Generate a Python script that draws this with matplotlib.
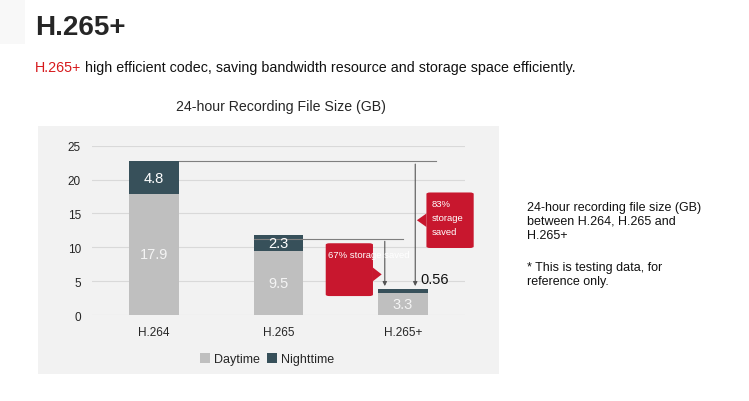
import matplotlib
matplotlib.use("Agg")
import matplotlib.pyplot as plt
from matplotlib.patches import Rectangle, FancyBboxPatch, Polygon

plt.rcParams['font.family'] = ['Liberation Sans', 'DejaVu Sans']

# data
codecs = ['H.264', 'H.265', 'H.265+']
daytime = [17.9, 9.5, 3.3]
nighttime = [4.8, 2.3, 0.56]
day_lbl = ['17.9', '9.5', '3.3']
night_lbl = ['4.8', '2.3', '0.56']
yticks = [0, 5, 10, 15, 20, 25]

c_day = '#bfbfbf'
c_night = '#37505a'
c_red = '#c8172e'
c_bg = '#f2f2f2'

fig = plt.figure(figsize=(7.49, 4.02), dpi=100)

# grey panel behind the chart
fig.patches.append(Rectangle((0.0507, 0.067), 0.6155, 0.617, transform=fig.transFigure,
                             facecolor=c_bg, edgecolor='none', zorder=-5))
# faint box behind header
fig.patches.append(Rectangle((0.0, 0.888), 0.034, 0.112, transform=fig.transFigure,
                             facecolor='#f8f8f8', edgecolor='none', zorder=-5))

fig.text(0.047, 0.93, 'H.265+', fontsize=20, fontweight='bold', color='#262626', va='center')
t = fig.text(0.047, 0.832, 'H.265+', fontsize=10.3, color='#d7191c', va='center')
fig.canvas.draw()
bb = t.get_window_extent()
fig.text(bb.x1 / fig.bbox.width + 0.004, 0.832,
         'high efficient codec, saving bandwidth resource and storage space efficiently.',
         fontsize=10.3, color='#111111', va='center')

fig.text(0.375, 0.733, '24-hour Recording File Size (GB)', fontsize=10.2, color='#262626',
         ha='center', va='center')

fig.text(0.703, 0.448, '24-hour recording file size (GB)\nbetween H.264, H.265 and\nH.265+',
         fontsize=9, color='#111111', va='center', linespacing=1.2)
fig.text(0.703, 0.315, '* This is testing data, for\nreference only.',
         fontsize=9, color='#111111', va='center', linespacing=1.2)

ax = fig.add_axes([0.1228, 0.2139, 0.498, 0.421])
ax.patch.set_alpha(0)
x = list(range(len(codecs)))
ax.bar(x, daytime, width=0.4, color=c_day, label='Daytime', zorder=3)
ax.bar(x, nighttime, width=0.4, bottom=daytime, color=c_night, label='Nighttime', zorder=3)

for i in x:
    ax.text(i, daytime[i] / 2, day_lbl[i], ha='center', va='center',
            fontsize=10.5, color='#f4f4f4', zorder=5)
    if nighttime[i] > 1:
        ax.text(i, daytime[i] + nighttime[i] / 2, night_lbl[i], ha='center', va='center',
                fontsize=10.5, color='white', zorder=5)
    else:
        ax.text(i + 0.14, daytime[i] + nighttime[i] + 1.4, night_lbl[i], ha='left',
                va='center', fontsize=10.5, color='#111111', zorder=5)

ax.set_xlim(-0.5, 2.5)
ax.set_ylim(0, 25)
ax.set_yticks(yticks)
ax.set_xticks(x)
ax.set_xticklabels(codecs)
ax.tick_params(length=0, labelsize=8.5, colors='#262626', pad=8)
ax.tick_params(axis='y', pad=8)
for s in ax.spines.values():
    s.set_visible(False)
ax.yaxis.grid(True, color='#d9d9d9', linewidth=0.8, zorder=0)
ax.set_axisbelow(True)

tot = [d + n for d, n in zip(daytime, nighttime)]
lc = '#7f7f7f'
# 83% saving line
ax.plot([0.2, 2.27], [tot[0], tot[0]], color=lc, lw=0.8, zorder=4, clip_on=False)
ax.annotate('', xy=(2.1, tot[2]), xytext=(2.1, tot[0]),
            arrowprops=dict(arrowstyle='-|>', color='#555555', lw=0.8, mutation_scale=6), zorder=4)
# 67% saving line
ax.plot([0.8, 2.0], [11.3, 11.3], color=lc, lw=0.8, zorder=4)
ax.annotate('', xy=(1.855, tot[2]), xytext=(1.855, 11.3),
            arrowprops=dict(arrowstyle='-|>', color='#555555', lw=0.8, mutation_scale=6), zorder=4)

# callouts
b1 = FancyBboxPatch((2.19, 9.9), 0.38, 8.2, boxstyle='round,pad=0,rounding_size=0.03',
                    facecolor=c_red, edgecolor='none', zorder=6, clip_on=False,
                    mutation_aspect=7)
ax.add_patch(b1)
ax.add_patch(Polygon([[2.19, 15.0], [2.113, 14.0], [2.19, 13.0]], closed=True,
                     facecolor=c_red, edgecolor='none', zorder=6, clip_on=False))
ax.text(2.235, 17.2, '83%\nstorage\nsaved', color='white', fontsize=6.8, va='top',
        ha='left', linespacing=1.75, zorder=7, clip_on=False)

b2 = FancyBboxPatch((1.38, 2.8), 0.38, 7.8, boxstyle='round,pad=0,rounding_size=0.03',
                    facecolor=c_red, edgecolor='none', zorder=6, mutation_aspect=7)
ax.add_patch(b2)
ax.add_patch(Polygon([[1.76, 7.0], [1.83, 6.0], [1.76, 5.0]], closed=True,
                     facecolor=c_red, edgecolor='none', zorder=6))
ax.text(1.40, 9.0, '67% storage saved', color='white', fontsize=6.8, va='center',
        ha='left', zorder=7)

leg = ax.legend(loc='upper center', bbox_to_anchor=(0.47, -0.16), ncol=2, frameon=False,
                fontsize=9, handlelength=0.8, handleheight=0.8, handletextpad=0.3,
                columnspacing=0.6)
for txt in leg.get_texts():
    txt.set_color('#262626')

fig.savefig('out.png', dpi=100)
